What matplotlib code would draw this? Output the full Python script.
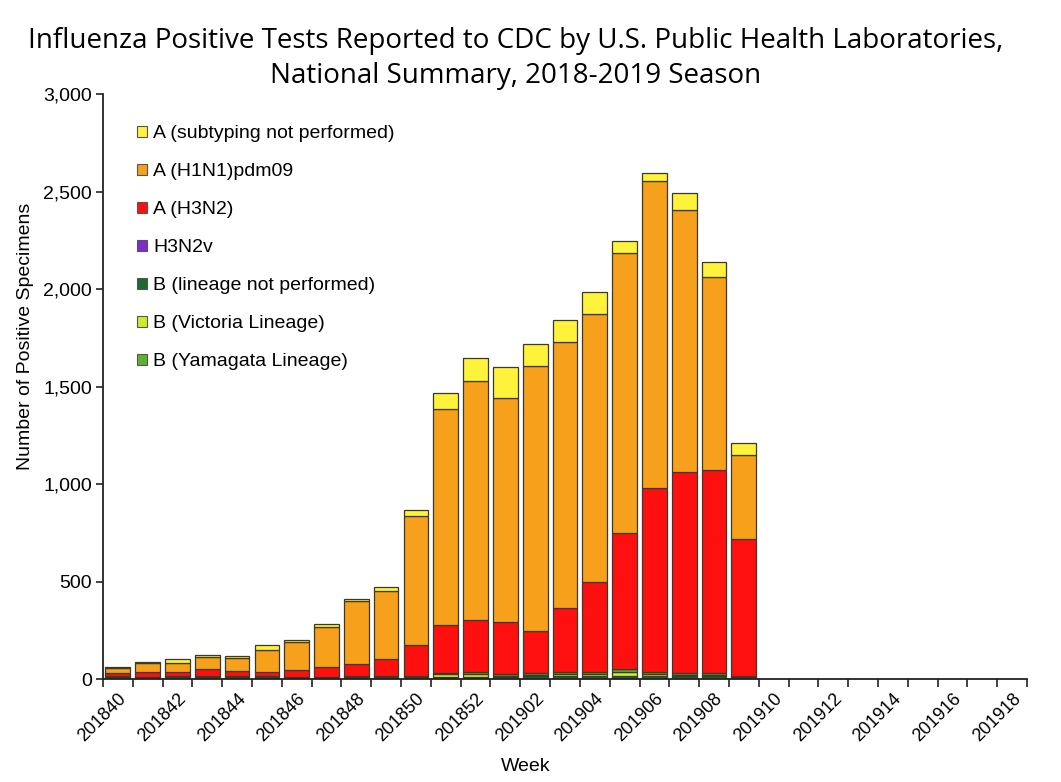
"""
Influenza positive tests reported to CDC by public health labs, 2018-2019 season.
Stacked weekly bars by virus type / subtype.
"""
import matplotlib
matplotlib.use("Agg")
import matplotlib.pyplot as plt
import numpy as np
from matplotlib.patches import Patch

# weeks 201840 .. 201918 (31 categories), data reported through 201909
weeks = [f"2018{w}" for w in range(40, 53)] + [f"2019{w:02d}" for w in range(1, 19)]

b_lineage_np = [10, 8, 12, 12, 8, 10, 6, 7, 8, 10, 11, 10, 12, 10, 17, 15, 18, 15, 15, 18, 16, 10]
b_victoria = [2, 2, 2, 2, 2, 2, 2, 2, 2, 2, 2, 15, 15, 6, 5, 12, 10, 22, 12, 5, 7, 2]
b_yamagata = [3, 2, 2, 3, 3, 3, 2, 2, 3, 3, 2, 7, 10, 10, 7, 10, 9, 13, 10, 9, 9, 3]
h3n2v = [0] * 22
a_h3n2 = [15, 22, 22, 35, 29, 22, 38, 50, 62, 87, 159, 245, 265, 265, 219, 325, 458, 697, 944, 1031, 1039, 701]
a_h1n1 = [28, 48, 43, 63, 68, 114, 140, 205, 325, 349, 663, 1108, 1227, 1149, 1357, 1368, 1376, 1436, 1574, 1342, 991, 432]
a_unsubtyped = [5, 7, 20, 10, 8, 22, 12, 14, 9, 22, 29, 80, 115, 159, 111, 111, 115, 63, 41, 86, 77, 60]

# bottom-to-top stacking order
series = [
    ("B (lineage not performed)", b_lineage_np, "#1A6B2E"),
    ("B (Victoria Lineage)", b_victoria, "#CCEB2A"),
    ("B (Yamagata Lineage)", b_yamagata, "#5DB030"),
    ("H3N2v", h3n2v, "#7B2BD1"),
    ("A (H3N2)", a_h3n2, "#FF1010"),
    ("A (H1N1)pdm09", a_h1n1, "#F7A01C"),
    ("A (subtyping not performed)", a_unsubtyped, "#FFF23A"),
]
legend_order = [
    "A (subtyping not performed)", "A (H1N1)pdm09", "A (H3N2)", "H3N2v",
    "B (lineage not performed)", "B (Victoria Lineage)", "B (Yamagata Lineage)",
]

FONT = "Liberation Sans"

fig = plt.figure(figsize=(10.61, 7.82), dpi=100)
ax = fig.add_axes([0.097, 0.1317, 0.871, 0.748])

x = np.arange(len(b_lineage_np))
bottom = np.zeros(len(x))
for label, vals, color in series:
    vals = np.array(vals, dtype=float)
    ax.bar(x, vals, width=0.83, bottom=bottom, color=color,
           edgecolor="#3a3a2a", linewidth=0.9, label=label)
    bottom += vals

ax.set_xlim(-0.5, len(weeks) - 0.5)
ax.set_ylim(0, 3000)
ax.set_yticks(np.arange(0, 3001, 500))
ax.set_yticklabels([f"{v:,}" for v in range(0, 3001, 500)], fontsize=14, family=FONT)

# ticks at category boundaries, labels every other week at category centres
ax.set_xticks(np.arange(-0.5, len(weeks), 1.0))
ax.set_xticklabels([])
ax.set_xticks(np.arange(0, len(weeks), 2), minor=True)
ax.set_xticklabels(weeks[::2], minor=True, rotation=45, ha="right",
                   rotation_mode="anchor", fontsize=13, family=FONT)
ax.tick_params(axis="x", which="major", length=6, width=1.2, color="#222222")
ax.tick_params(axis="x", which="minor", length=0, pad=8)
ax.tick_params(axis="y", length=5, width=1.2, color="#222222", pad=3)

for s in ["top", "right"]:
    ax.spines[s].set_visible(False)
for s in ["left", "bottom"]:
    ax.spines[s].set_linewidth(1.3)
    ax.spines[s].set_color("#222222")

ax.set_ylabel("Number of Positive Specimens", fontsize=14, family=FONT)
ax.yaxis.set_label_coords(-0.075, 0.585)
ax.set_xlabel("Week", fontsize=14, family=FONT)
ax.xaxis.set_label_coords(0.457, -0.135)

colors = {lab: c for lab, _, c in series}
handles = [Patch(facecolor=colors[lab], edgecolor="#555555", linewidth=0.8, label=lab)
           for lab in legend_order]
ax.legend(handles=handles, loc="upper left", bbox_to_anchor=(0.028, 0.96), frameon=False,
          prop={"family": FONT, "size": 14}, handlelength=0.55, handleheight=0.55,
          handletextpad=0.3, labelspacing=1.08, borderaxespad=0)

fig.suptitle("Influenza Positive Tests Reported to CDC by U.S. Public Health Laboratories,\n"
             "National Summary, 2018-2019 Season",
             fontsize=20, family="Open Sans", x=0.486, y=0.965, linespacing=1.3)

fig.savefig("out.png", dpi=100)
